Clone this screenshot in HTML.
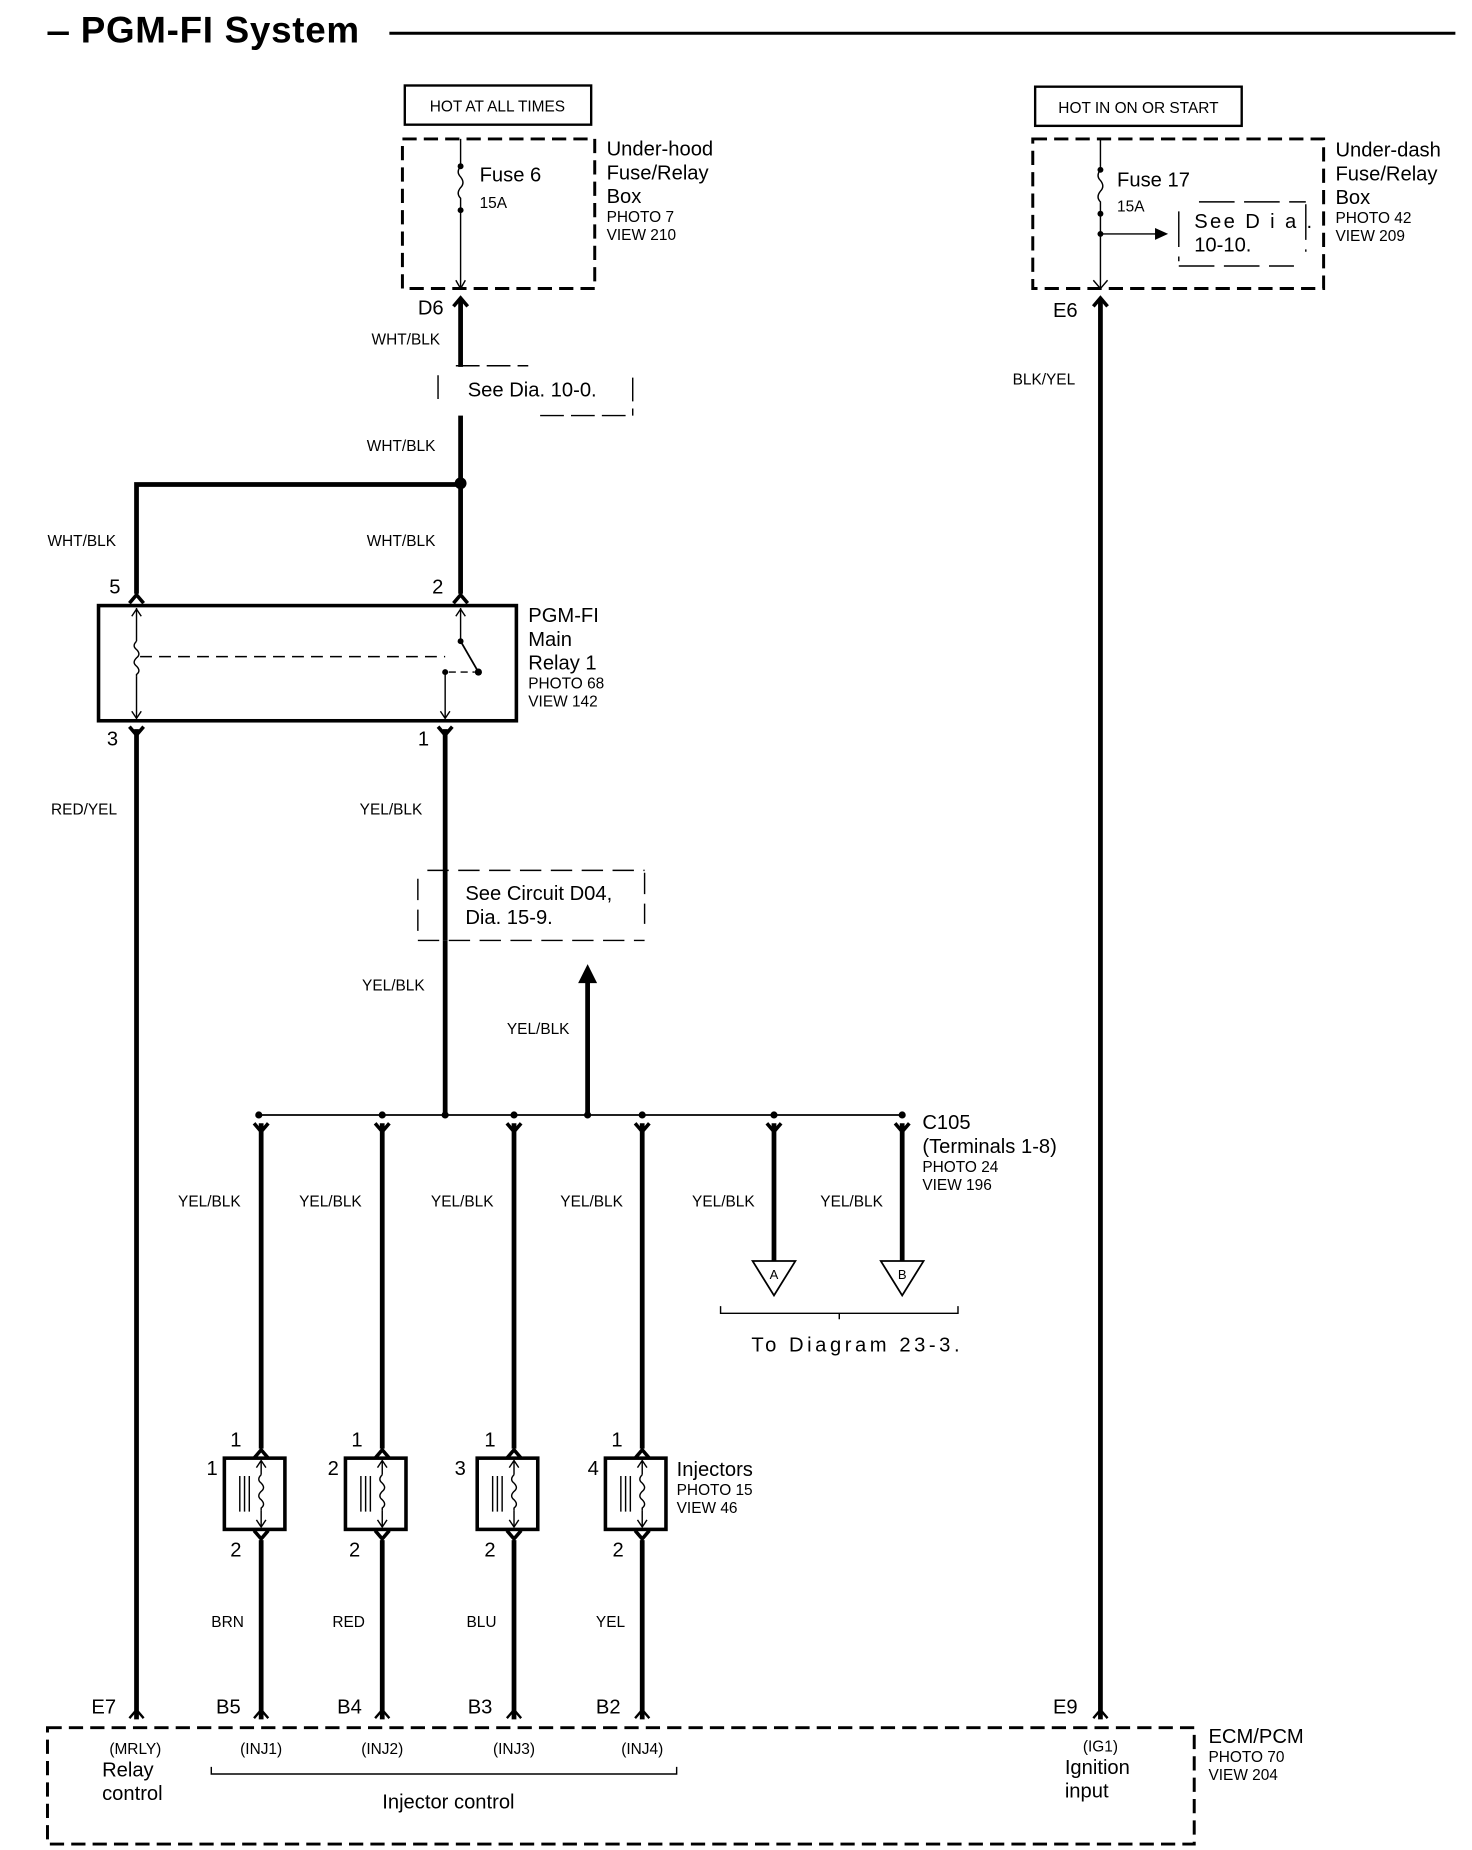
<!DOCTYPE html>
<html><head><meta charset="utf-8"><style>
html,body{margin:0;padding:0;background:#fff}
svg{display:block}
text{font-family:"Liberation Sans",Arial,sans-serif;fill:#000}
.s{font-size:13px}.m{font-size:17px}.l{font-size:16px}
.w{stroke:#000;stroke-width:4;fill:none}
.t{stroke:#000;stroke-width:1.2;fill:none}
.d{stroke:#000;stroke-width:2.5;fill:none;stroke-dasharray:12,6}
.dt{stroke:#000;stroke-width:1.2;fill:none;stroke-dasharray:14,8}
</style></head><body>
<svg width="1472" height="1850" viewBox="0 0 1240 1558" preserveAspectRatio="none" xmlns="http://www.w3.org/2000/svg">
<defs>
<g id="cu"><path d="M-6,8 L0,1 L6,8" stroke="#000" stroke-width="3" fill="none"/></g>
<g id="cd"><path d="M-6,-8 L0,-1 L6,-8" stroke="#000" stroke-width="3" fill="none"/></g>
</defs>
<!-- title -->
<line x1="40" y1="28" x2="58" y2="28" stroke="#000" stroke-width="3"/>
<text x="68" y="36" style="font-size:31px;font-weight:bold;letter-spacing:0.6px">PGM-FI System</text>
<line x1="328" y1="28" x2="1226" y2="28" stroke="#000" stroke-width="2.5"/>

<!-- left fuse -->
<rect x="341" y="72" width="157" height="33" fill="none" stroke="#000" stroke-width="2"/>
<text x="419" y="94" class="s" text-anchor="middle">HOT AT ALL TIMES</text>
<rect x="339" y="117" width="162" height="126" class="d"/>
<line x1="388" y1="117" x2="388" y2="243" class="t"/>
<rect x="384" y="140" width="8" height="38" fill="#fff"/>
<circle cx="388" cy="140" r="2.5"/><circle cx="388" cy="177" r="2.5"/>
<path d="M388,140 q-4,5 0,9 q4,5 0,9 q-4,5 0,9 l0,10" class="t"/>
<path d="M384,236 L388,243 L392,236" class="t"/>
<text x="404" y="153" class="m">Fuse 6</text>
<text x="404" y="175" class="s">15A</text>
<text x="511" y="131" class="m">Under-hood</text>
<text x="511" y="151" class="m">Fuse/Relay</text>
<text x="511" y="171" class="m">Box</text>
<text x="511" y="187" class="s">PHOTO 7</text>
<text x="511" y="202" class="s">VIEW 210</text>
<text x="352" y="265" class="m">D6</text>
<line x1="388" y1="252" x2="388" y2="500" class="w"/>
<use href="#cu" x="388" y="250"/>
<text x="313" y="290" class="s">WHT/BLK</text>
<rect x="369" y="309" width="164" height="41" fill="#fff"/>
<path d="M369,316 V340 M533,318 V350 M384,308 H445 M455,350 H530" class="t" stroke-dasharray="20,6"/>
<text x="394" y="334" class="m">See Dia.  10-0.</text>
<text x="309" y="380" class="s">WHT/BLK</text>
<circle cx="388" cy="407" r="5"/>
<path d="M388,408 H115 V500" class="w"/>
<text x="40" y="460" class="s">WHT/BLK</text>
<text x="309" y="460" class="s">WHT/BLK</text>
<text x="92" y="500" class="m">5</text>
<text x="364" y="500" class="m">2</text>
<use href="#cu" x="115" y="500"/><use href="#cu" x="388" y="500"/>

<!-- relay -->
<rect x="83" y="510" width="352" height="97" fill="none" stroke="#000" stroke-width="3"/>
<line x1="115" y1="512" x2="115" y2="605" class="t"/>
<path d="M111,519 L115,513 L119,519 M111,599 L115,605 L119,599" class="t"/>
<rect x="112" y="540" width="6" height="30" fill="#fff"/>
<path d="M115,540 q-4,4 0,7 q4,4 0,7 q-4,4 0,7 q4,4 0,7 l0,2" class="t"/>
<line x1="118" y1="553" x2="375" y2="553" class="t" stroke-dasharray="10,6"/>
<line x1="388" y1="512" x2="388" y2="540" class="t"/>
<path d="M384,519 L388,513 L392,519" class="t"/>
<circle cx="388" cy="540" r="2.5"/><line x1="388" y1="540" x2="403" y2="566" stroke="#000" stroke-width="1.5"/>
<circle cx="403" cy="566" r="3"/><circle cx="375" cy="566" r="2.5"/>
<path d="M378,566 H400" class="t" stroke-dasharray="6,4"/>
<line x1="375" y1="566" x2="375" y2="605" class="t"/>
<path d="M371,599 L375,605 L379,599" class="t"/>
<text x="445" y="524" class="m">PGM-FI</text>
<text x="445" y="544" class="m">Main</text>
<text x="445" y="564" class="m">Relay 1</text>
<text x="445" y="580" class="s">PHOTO 68</text>
<text x="445" y="595" class="s">VIEW 142</text>
<text x="90" y="628" class="m">3</text>
<text x="352" y="628" class="m">1</text>
<use href="#cd" x="115" y="620"/><use href="#cd" x="375" y="620"/>
<line x1="115" y1="614" x2="115" y2="1448" class="w"/>
<line x1="375" y1="614" x2="375" y2="938" class="w"/>
<text x="43" y="686" class="s">RED/YEL</text>
<text x="303" y="686" class="s">YEL/BLK</text>
<rect x="352" y="733" width="191" height="59" fill="#fff"/>
<path d="M352,740 V787 M543,735 V778 M360,733 H543 M352,792 H543" class="t" stroke-dasharray="18,8"/>
<line x1="375" y1="733" x2="375" y2="792" class="w"/>
<text x="392" y="758" class="m">See Circuit D04,</text>
<text x="392" y="778" class="m">Dia. 15-9.</text>
<text x="305" y="834" class="s">YEL/BLK</text>
<line x1="495" y1="938" x2="495" y2="826" class="w"/>
<path d="M487,828 L495,812 L503,828 Z"/>
<text x="427" y="871" class="s">YEL/BLK</text>

<!-- bus -->
<line x1="218" y1="939" x2="760" y2="939" stroke="#000" stroke-width="1.5"/>
<g fill="#000"><circle cx="218" cy="939" r="3"/><circle cx="322" cy="939" r="3"/><circle cx="375" cy="939" r="3"/><circle cx="433" cy="939" r="3"/><circle cx="495" cy="939" r="3"/><circle cx="541" cy="939" r="3"/><circle cx="652" cy="939" r="3"/><circle cx="760" cy="939" r="3"/></g>
<text x="777" y="951" class="m">C105</text>
<text x="777" y="971" class="m">(Terminals 1-8)</text>
<text x="777" y="987" class="s">PHOTO 24</text>
<text x="777" y="1002" class="s">VIEW 196</text>
<g class="w"><path d="M220,946 V1220 M322,946 V1220 M433,946 V1220 M541,946 V1220 M220,1297 V1448 M322,1297 V1448 M433,1297 V1448 M541,1297 V1448 M652,946 V1062 M760,946 V1062"/></g>
<use href="#cd" x="220" y="954"/><use href="#cd" x="322" y="954"/><use href="#cd" x="433" y="954"/><use href="#cd" x="541" y="954"/><use href="#cd" x="652" y="954"/><use href="#cd" x="760" y="954"/>
<text x="150" y="1016" class="s">YEL/BLK</text><text x="252" y="1016" class="s">YEL/BLK</text><text x="363" y="1016" class="s">YEL/BLK</text><text x="472" y="1016" class="s">YEL/BLK</text><text x="583" y="1016" class="s">YEL/BLK</text><text x="691" y="1016" class="s">YEL/BLK</text>
<path d="M634,1062 H670 L652,1091 Z M742,1062 H778 L760,1091 Z" stroke="#000" stroke-width="1.5" fill="#fff"/>
<text x="652" y="1077" class="s" text-anchor="middle" style="font-size:11px">A</text>
<text x="760" y="1077" class="s" text-anchor="middle" style="font-size:11px">B</text>
<path d="M607,1100 V1106 H807 V1100 M707,1106 V1111" class="t" stroke-width="2"/>
<text x="633" y="1138" class="m" style="letter-spacing:3px">To Diagram  23-3.</text>

<!-- injectors -->
<g id="inj">
<rect x="189" y="1228" width="51" height="60" fill="none" stroke="#000" stroke-width="3"/>
<line x1="220" y1="1230" x2="220" y2="1286" class="t"/>
<rect x="217" y="1242" width="6" height="30" fill="#fff"/>
<path d="M220,1242 q-4,4 0,7 q4,4 0,7 q-4,4 0,7 q4,4 0,7 l0,2" class="t"/>
<path d="M216,1236 L220,1230 L224,1236 M216,1280 L220,1286 L224,1280" class="t"/>
<path d="M202,1243 V1273 M206,1243 V1273 M210,1243 V1273" class="t"/>
<use href="#cu" x="220" y="1220"/><use href="#cd" x="220" y="1297"/>
</g>
<use href="#inj" x="102"/><use href="#inj" x="213"/><use href="#inj" x="321"/>
<text x="194" y="1218" class="m">1</text><text x="296" y="1218" class="m">1</text><text x="408" y="1218" class="m">1</text><text x="515" y="1218" class="m">1</text>
<text x="174" y="1242" class="m">1</text><text x="276" y="1242" class="m">2</text><text x="383" y="1242" class="m">3</text><text x="495" y="1242" class="m">4</text>
<text x="194" y="1311" class="m">2</text><text x="294" y="1311" class="m">2</text><text x="408" y="1311" class="m">2</text><text x="516" y="1311" class="m">2</text>
<text x="570" y="1243" class="m">Injectors</text>
<text x="570" y="1259" class="s">PHOTO 15</text>
<text x="570" y="1274" class="s">VIEW 46</text>
<text x="178" y="1370" class="s">BRN</text><text x="280" y="1370" class="s">RED</text><text x="393" y="1370" class="s">BLU</text><text x="502" y="1370" class="s">YEL</text>

<!-- ECM -->
<text x="77" y="1443" class="m">E7</text><text x="182" y="1443" class="m">B5</text><text x="284" y="1443" class="m">B4</text><text x="394" y="1443" class="m">B3</text><text x="502" y="1443" class="m">B2</text><text x="887" y="1443" class="m">E9</text>
<g><path d="M109,1447 L115,1440 L121,1447 M214,1447 L220,1440 L226,1447 M316,1447 L322,1440 L328,1447 M427,1447 L433,1440 L439,1447 M535,1447 L541,1440 L547,1447 M921,1447 L927,1440 L933,1447" stroke="#000" stroke-width="2" fill="none"/></g>
<rect x="40" y="1455" width="966" height="98" class="d"/>
<text x="1018" y="1468" class="m">ECM/PCM</text>
<text x="1018" y="1484" class="s">PHOTO 70</text>
<text x="1018" y="1499" class="s">VIEW 204</text>
<text x="114" y="1477" class="s" text-anchor="middle">(MRLY)</text>
<text x="86" y="1496" class="m">Relay</text>
<text x="86" y="1516" class="m">control</text>
<text x="220" y="1477" class="s" text-anchor="middle">(INJ1)</text>
<text x="322" y="1477" class="s" text-anchor="middle">(INJ2)</text>
<text x="433" y="1477" class="s" text-anchor="middle">(INJ3)</text>
<text x="541" y="1477" class="s" text-anchor="middle">(INJ4)</text>
<path d="M178,1488 V1494 H570 V1488" class="t" stroke-width="2"/>
<text x="322" y="1523" class="m">Injector control</text>
<text x="927" y="1475" class="s" text-anchor="middle">(IG1)</text>
<text x="897" y="1494" class="m">Ignition</text>
<text x="897" y="1514" class="m">input</text>

<!-- right fuse -->
<rect x="872" y="73" width="174" height="33" fill="none" stroke="#000" stroke-width="2"/>
<text x="959" y="95" class="s" text-anchor="middle">HOT IN ON OR START</text>
<rect x="870" y="117" width="245" height="126" class="d"/>
<line x1="927" y1="117" x2="927" y2="243" class="t"/>
<rect x="923" y="142" width="8" height="38" fill="#fff"/>
<circle cx="927" cy="143" r="2.5"/><circle cx="927" cy="180" r="2.5"/>
<path d="M927,143 q-4,5 0,9 q4,5 0,9 q-4,5 0,9 l0,10" class="t"/>
<circle cx="927" cy="197" r="2.5"/>
<line x1="927" y1="197" x2="975" y2="197" class="t"/>
<path d="M973,192 L984,197 L973,202 Z"/>
<path d="M921,236 L927,243 L933,236" class="t"/>
<path d="M993,178 V220 M1100,172 V212 M1010,170 H1100 M993,224 H1090" class="t" stroke-dasharray="30,8"/>
<text x="941" y="157" class="m">Fuse 17</text>
<text x="941" y="178" class="s">15A</text>
<text x="1006" y="192" class="m" style="letter-spacing:2px">See D i a .</text>
<text x="1006" y="212" class="m">10-10.</text>
<text x="1125" y="132" class="m">Under-dash</text>
<text x="1125" y="152" class="m">Fuse/Relay</text>
<text x="1125" y="172" class="m">Box</text>
<text x="1125" y="188" class="s">PHOTO 42</text>
<text x="1125" y="203" class="s">VIEW 209</text>
<text x="887" y="267" class="m">E6</text>
<use href="#cu" x="927" y="250"/>
<line x1="927" y1="252" x2="927" y2="1448" class="w"/>
<text x="853" y="324" class="s">BLK/YEL</text>
</svg>
</body></html>
